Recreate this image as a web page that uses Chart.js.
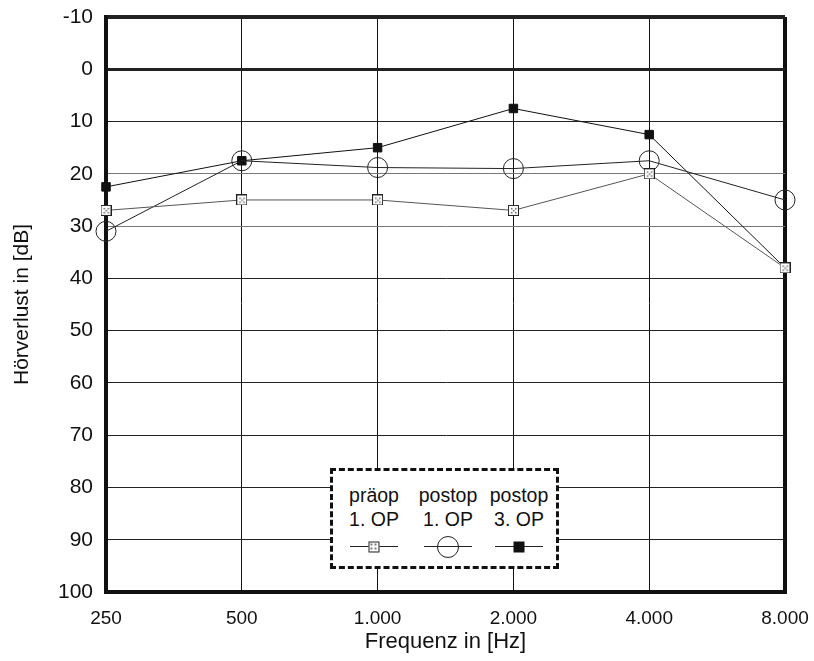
<!DOCTYPE html>
<html lang="de">
<head>
<meta charset="UTF-8">
<title>Hörverlust</title>
<script src="https://cdn.jsdelivr.net/npm/chart.js"></script>
<style>
  body { margin: 0; background: #fff; font-family: "Liberation Sans", Arial, sans-serif; }
  .wrap { position: relative; width: 814px; height: 661px; }
  .legende {
    position: absolute; left: 330px; top: 468px; width: 223px; height: 95px;
    border: 3px dashed #111; background: #fff; box-sizing: content-box;
  }
  .spalte { position: absolute; top: 12px; width: 76px; text-align: center; font-size: 19.5px; line-height: 24px; color: #111; }
  .sym { position: relative; height: 24px; margin-top: 4px; }
  .sym .linie { position: absolute; left: 14px; right: 14px; top: 11px; border-top: 1px solid #222; }
  .sym .m { position: absolute; left: 50%; top: 12px; transform: translate(-50%, -50%); box-sizing: border-box; }
  .m.q { width: 11px; height: 11px; border: 1px solid #222; background: #fff radial-gradient(#777 1px, transparent 1.3px) 0 0 / 4px 4px; }
  .m.k { width: 22px; height: 22px; border: 1px solid #222; border-radius: 50%; background: transparent; }
  .m.s { width: 11px; height: 11px; background: #111; }
</style>
</head>
<body>
<div class="wrap">
  <canvas id="grafik" width="814" height="661"></canvas>
  <div class="legende">
    <div class="spalte" style="left:3px">präop<br>1. OP<div class="sym"><div class="linie"></div><div class="m q"></div></div></div>
    <div class="spalte" style="left:77px">postop<br>1. OP<div class="sym"><div class="linie"></div><div class="m k"></div></div></div>
    <div class="spalte" style="left:148px">postop<br>3. OP<div class="sym"><div class="linie"></div><div class="m s"></div></div></div>
  </div>
</div>
<script>
  const frequenzen = [250, 500, 1000, 2000, 4000, 8000];
  const praeop1 = [27, 25, 25, 27, 20, 38];
  const postop1 = [31, 17.5, 18.8, 19, 17.5, 25];
  const postop3 = [22.5, 17.5, 15, 7.5, 12.5, 38];
  const dbTicks = [-10, 0, 10, 20, 30, 40, 50, 60, 70, 80, 90, 100];

  // kleines Kästchen mit Punkten für präop
  function kaestchen() {
    const c = document.createElement('canvas');
    c.width = 11; c.height = 11;
    const g = c.getContext('2d');
    g.fillStyle = '#fff'; g.fillRect(0, 0, 11, 11);
    g.strokeStyle = '#222'; g.lineWidth = 1; g.strokeRect(0.5, 0.5, 10, 10);
    g.fillStyle = '#666';
    [[3, 3], [7, 3], [5, 5], [3, 7], [7, 7]].forEach(p => g.fillRect(p[0], p[1], 1.5, 1.5));
    return c;
  }

  function punkte(werte) {
    return frequenzen.map((f, i) => ({ x: f, y: werte[i] }));
  }

  const fmt = v => String(v).replace(/\B(?=(\d{3})+(?!\d))/g, '.');

  new Chart(document.getElementById('grafik'), {
    type: 'line',
    data: {
      datasets: [
        { label: 'präop 1. OP', data: punkte(praeop1), borderColor: '#555', borderWidth: 1,
          pointStyle: kaestchen(), pointRadius: 6, clip: false },
        { label: 'postop 1. OP', data: punkte(postop1), borderColor: '#222', borderWidth: 1,
          pointStyle: 'circle', pointRadius: 10, pointBackgroundColor: 'rgba(0,0,0,0)',
          pointBorderColor: '#222', pointBorderWidth: 1, clip: false },
        { label: 'postop 3. OP', data: punkte(postop3), borderColor: '#111', borderWidth: 1,
          pointStyle: 'rect', pointRadius: 6, pointBackgroundColor: '#111',
          pointBorderColor: '#111', clip: false }
      ]
    },
    options: {
      responsive: false,
      animation: false,
      layout: { padding: { top: 17, right: 29, left: 0, bottom: 0 } },
      plugins: { legend: { display: false }, tooltip: { enabled: false } },
      scales: {
        x: {
          type: 'logarithmic', min: 250, max: 8000,
          afterBuildTicks: s => { s.ticks = frequenzen.map(v => ({ value: v })); },
          afterFit: s => { s.height = 69; s.paddingLeft = 0; s.paddingRight = 0; },
          ticks: { color: '#111', font: { family: 'Liberation Sans', size: 19 }, padding: 15,
            callback: v => fmt(v), autoSkip: false, maxRotation: 0 },
          grid: { color: '#111', drawTicks: false,
            lineWidth: c => (c.index === 0 || c.index === frequenzen.length - 1) ? 4 : 1 },
          border: { display: true, width: 4, color: '#111' },
          title: { display: true, text: 'Frequenz in [Hz]', color: '#111',
            font: { family: 'Liberation Sans', size: 22 }, padding: { top: 0, bottom: 6 } }
        },
        y: {
          reverse: true, min: -10, max: 100,
          afterBuildTicks: s => { s.ticks = dbTicks.map(v => ({ value: v })); },
          afterFit: s => { s.width = 106; s.paddingTop = 0; s.paddingBottom = 0; },
          ticks: { color: '#111', font: { family: 'Liberation Sans', size: 21 }, padding: 13 },
          grid: { drawTicks: false,
            color: c => c.tick && (c.tick.value === 20 || c.tick.value === 30) ? '#777' : '#222',
            lineWidth: c => {
              const v = c.tick ? c.tick.value : null;
              if (v === -10 || v === 100) return 4;
              if (v === 0) return 3;
              return 1;
            } },
          border: { display: true, width: 4, color: '#111' },
          title: { display: true, text: 'Hörverlust in [dB]', color: '#111',
            font: { family: 'Liberation Sans', size: 21 }, padding: { top: 10, bottom: 0 } }
        }
      }
    }
  });
</script>
</body>
</html>
